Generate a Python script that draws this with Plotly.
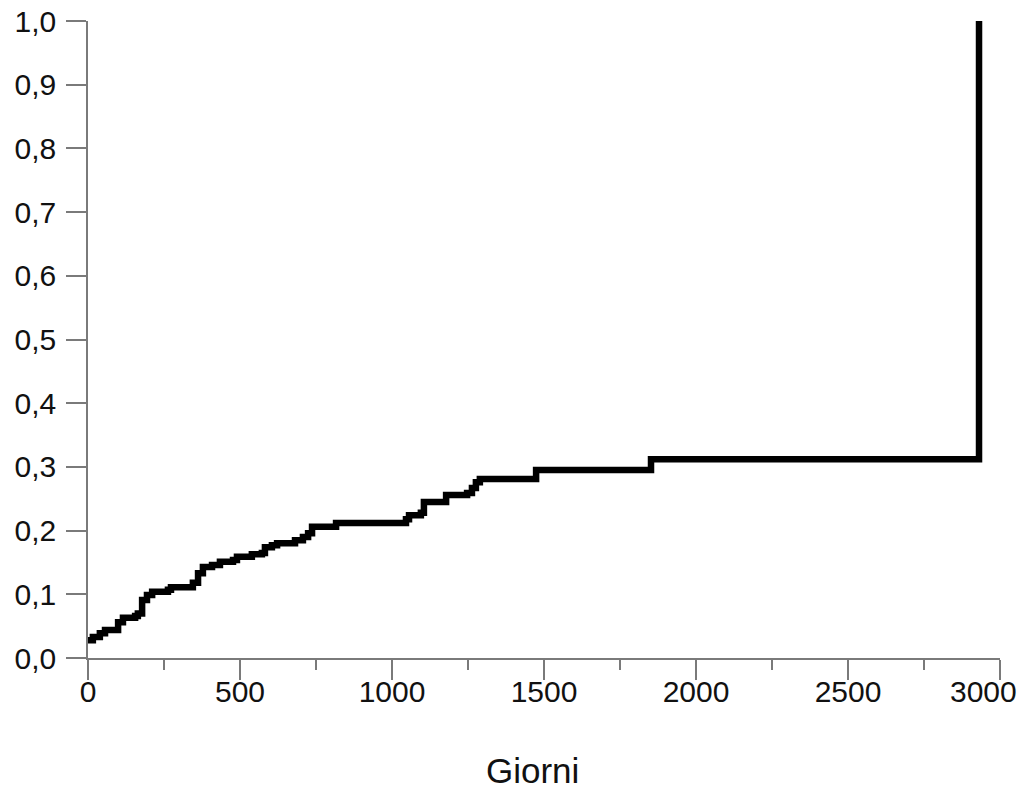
import plotly.graph_objects as go

# Cumulative incidence step data (days, value)
giorni = [0, 16, 39, 56, 99, 115, 155, 164, 178, 194, 211, 263, 273, 345, 362, 378,
          408, 434, 477, 490, 539, 572, 582, 605, 622, 681, 707, 724, 737, 816,
          1046, 1056, 1095, 1105, 1178, 1247, 1263, 1276, 1289, 1474, 1852, 2931]
valori = [0.028, 0.033, 0.039, 0.044, 0.056, 0.063, 0.066, 0.070, 0.091, 0.099, 0.104,
          0.107, 0.111, 0.118, 0.133, 0.143, 0.146, 0.151, 0.154, 0.159, 0.163, 0.165,
          0.174, 0.177, 0.180, 0.185, 0.190, 0.196, 0.206, 0.212, 0.218, 0.224, 0.228,
          0.245, 0.256, 0.259, 0.267, 0.276, 0.281, 0.295, 0.312, 1.0]

y_tickvals = [0.0, 0.1, 0.2, 0.3, 0.4, 0.5, 0.6, 0.7, 0.8, 0.9, 1.0]
y_ticktext = ["0,0", "0,1", "0,2", "0,3", "0,4", "0,5", "0,6", "0,7", "0,8", "0,9", "1,0"]
x_tickvals = [0, 500, 1000, 1500, 2000, 2500, 3000]
x_ticktext = ["0", "500", "1000", "1500", "2000", "2500", "3000"]
x_title = "Giorni"

family = "Liberation Sans, Arial, sans-serif"
tickfont = dict(family=family, size=30, color="#111111")

fig = go.Figure()
fig.add_trace(go.Scatter(
    x=giorni, y=valori, mode="lines", line_shape="hv",
    line=dict(color="black", width=6.5), showlegend=False,
))

# last x tick label is drawn as annotation so it can be nudged inside the page
last_label = x_ticktext[-1]
shown_ticktext = x_ticktext[:-1] + [""]

fig.update_layout(
    width=1026, height=789,
    margin=dict(l=88, r=26, t=21, b=131),
    paper_bgcolor="white", plot_bgcolor="white",
    font=tickfont,
    xaxis=dict(
        range=[0, 3000], tickvals=x_tickvals, ticktext=shown_ticktext,
        showgrid=False, zeroline=False, showline=True, linecolor="#7a7a7a", linewidth=1.5,
        ticks="outside", ticklen=20, tickwidth=1.5, tickcolor="#7a7a7a",
        minor=dict(ticks="outside", dtick=250, ticklen=10, tickwidth=1.5, tickcolor="#7a7a7a"),
        tickfont=tickfont, automargin=False, ticklabeloverflow="allow",
        ticklabelstandoff=-14,
    ),
    yaxis=dict(
        range=[0, 1], tickvals=y_tickvals, ticktext=y_ticktext,
        showgrid=False, zeroline=False, showline=True, linecolor="#7a7a7a", linewidth=1.5,
        ticks="outside", ticklen=20, tickwidth=1.5, tickcolor="#7a7a7a",
        tickfont=tickfont, automargin=False, ticklabeloverflow="allow",
        ticklabelstandoff=4,
    ),
    annotations=[
        dict(
            text=x_title, xref="paper", yref="paper", x=0.487, y=-0.176,
            xanchor="center", yanchor="middle", showarrow=False,
            font=dict(family=family, size=35, color="#111111"),
        ),
        dict(
            text=last_label, xref="x", yref="paper", x=x_tickvals[-1], y=-0.052,
            xanchor="center", yanchor="middle", xshift=-17, showarrow=False,
            font=tickfont,
        ),
    ],
)

fig.write_html("out.html")
